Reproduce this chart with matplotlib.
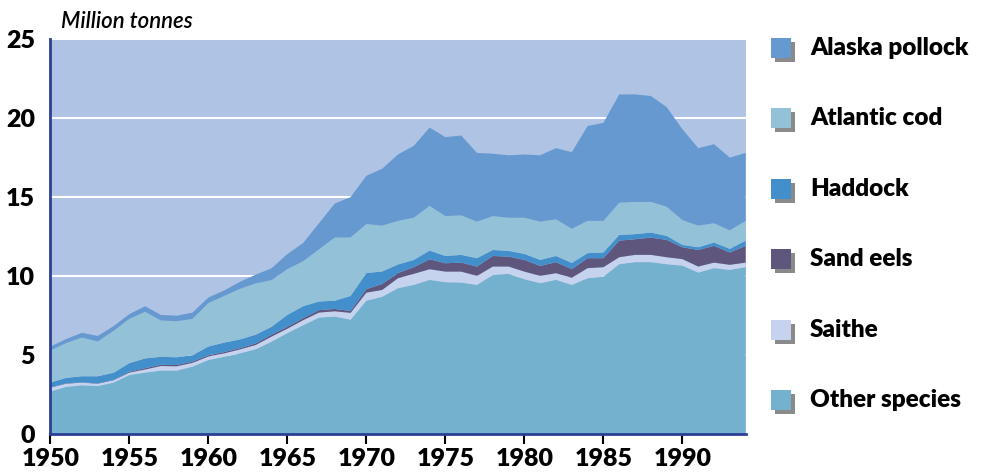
import matplotlib
matplotlib.use("Agg")
import matplotlib.pyplot as plt
from matplotlib.patches import Rectangle

years = list(range(1950, 1995))

other_species = [2.70, 3.00, 3.10, 3.05, 3.27, 3.75, 3.90, 4.03, 4.03, 4.28,
                 4.70, 4.90, 5.12, 5.38, 5.86, 6.40, 6.90, 7.38, 7.45, 7.25,
                 8.45, 8.70, 9.24, 9.45, 9.77, 9.62, 9.60, 9.45, 10.08, 10.15,
                 9.81, 9.56, 9.77, 9.45, 9.87, 9.97, 10.76, 10.89, 10.89, 10.76,
                 10.67, 10.23, 10.51, 10.40, 10.57]
saithe = [0.25, 0.20, 0.17, 0.15, 0.15, 0.15, 0.20, 0.29, 0.27, 0.24,
          0.22, 0.22, 0.25, 0.27, 0.32, 0.28, 0.32, 0.32, 0.33, 0.43,
          0.51, 0.43, 0.63, 0.70, 0.67, 0.67, 0.69, 0.57, 0.53, 0.46,
          0.48, 0.46, 0.42, 0.45, 0.64, 0.60, 0.44, 0.46, 0.46, 0.44,
          0.41, 0.38, 0.35, 0.32, 0.29]
sand_eels = [0.02, 0.02, 0.02, 0.02, 0.02, 0.05, 0.08, 0.08, 0.08, 0.08,
             0.08, 0.08, 0.08, 0.10, 0.12, 0.12, 0.13, 0.15, 0.15, 0.12,
             0.22, 0.38, 0.33, 0.42, 0.63, 0.53, 0.57, 0.59, 0.67, 0.63,
             0.74, 0.63, 0.70, 0.55, 0.63, 0.57, 1.05, 0.99, 1.09, 1.10,
             0.75, 1.05, 1.06, 0.78, 1.06]
haddock = [0.30, 0.35, 0.38, 0.45, 0.45, 0.55, 0.62, 0.50, 0.49, 0.40,
           0.55, 0.60, 0.55, 0.55, 0.50, 0.75, 0.75, 0.55, 0.52, 0.95,
           1.02, 0.79, 0.54, 0.46, 0.55, 0.46, 0.49, 0.53, 0.38, 0.36,
           0.38, 0.38, 0.39, 0.39, 0.32, 0.36, 0.36, 0.32, 0.32, 0.25,
           0.15, 0.17, 0.21, 0.23, 0.33]
atlantic_cod = [2.03, 2.20, 2.45, 2.20, 2.65, 2.80, 2.95, 2.30, 2.28, 2.30,
                2.75, 2.95, 3.20, 3.25, 2.95, 2.90, 2.85, 3.30, 4.00, 3.70,
                3.10, 2.90, 2.76, 2.67, 2.83, 2.52, 2.50, 2.31, 2.14, 2.10,
                2.29, 2.42, 2.32, 2.16, 2.04, 2.00, 2.04, 2.04, 1.94, 1.85,
                1.57, 1.37, 1.22, 1.17, 1.25]
alaska_pollock = [0.25, 0.25, 0.30, 0.35, 0.30, 0.30, 0.35, 0.35, 0.35, 0.40,
                  0.35, 0.35, 0.45, 0.55, 0.75, 0.95, 1.15, 1.65, 2.15, 2.55,
                  3.05, 3.60, 4.20, 4.55, 4.95, 5.00, 5.05, 4.35, 3.95, 3.95,
                  4.00, 4.20, 4.50, 4.85, 6.00, 6.20, 6.85, 6.80, 6.70, 6.30,
                  5.75, 4.90, 5.00, 4.60, 4.30]

series = [other_species, saithe, sand_eels, haddock, atlantic_cod, alaska_pollock]
names = ["Other species", "Saithe", "Sand eels", "Haddock", "Atlantic cod", "Alaska pollock"]
colors = ["#74b1cf", "#c6d3ee", "#5f567e", "#428fcb", "#93c2d8", "#6699cf"]

plt.rcParams['font.family'] = ['Lato', 'DejaVu Sans']

fig = plt.figure(figsize=(9.85, 4.75), dpi=100)
ax = fig.add_axes([0.0511, 0.0857, 0.7059, 0.832])
ax.set_facecolor("#afc3e4")

ax.stackplot(years, *series, colors=colors, linewidth=0, zorder=2)

ax.set_xlim(1950, 1994)
ax.set_ylim(0, 25)
ax.set_yticks([0, 5, 10, 15, 20, 25])
ax.set_xticks(range(1950, 1995, 5))
ax.yaxis.grid(True, color="white", linewidth=1.5, zorder=1)
ax.set_axisbelow(True)

for s in ["top", "right"]:
    ax.spines[s].set_visible(False)
for s in ["left", "bottom"]:
    ax.spines[s].set_color("#2b3f94")
    ax.spines[s].set_linewidth(2)
    ax.spines[s].set_zorder(5)

ax.tick_params(axis="y", length=0, pad=11, labelsize=18)
ax.tick_params(axis="x", length=7, width=1.5, color="black", pad=3, labelsize=18)
for lab in ax.get_xticklabels() + ax.get_yticklabels():
    lab.set_fontweight("heavy")

fig.text(0.062, 0.932, "Million tonnes", fontsize=16, style="italic",
         fontweight="semibold", ha="left", va="bottom")

# legend drawn by hand (squares with grey drop shadow)
for i, (name, col) in enumerate(zip(names[::-1], colors[::-1])):
    yc = 1 - (48 + i * 70.4) / 475
    x0 = 771 / 985
    w = 20 / 985
    h = 20 / 475
    fig.add_artist(Rectangle((x0 + 4 / 985, yc - h / 2 - 4 / 475), w, h,
                             transform=fig.transFigure, color="#8a8a8a", lw=0))
    fig.add_artist(Rectangle((x0, yc - h / 2), w, h,
                             transform=fig.transFigure, color=col, lw=0))
    fig.text(810 / 985, yc, name, fontsize=17.5, fontweight="heavy",
             ha="left", va="center")

fig.savefig("out.png", dpi=100)
